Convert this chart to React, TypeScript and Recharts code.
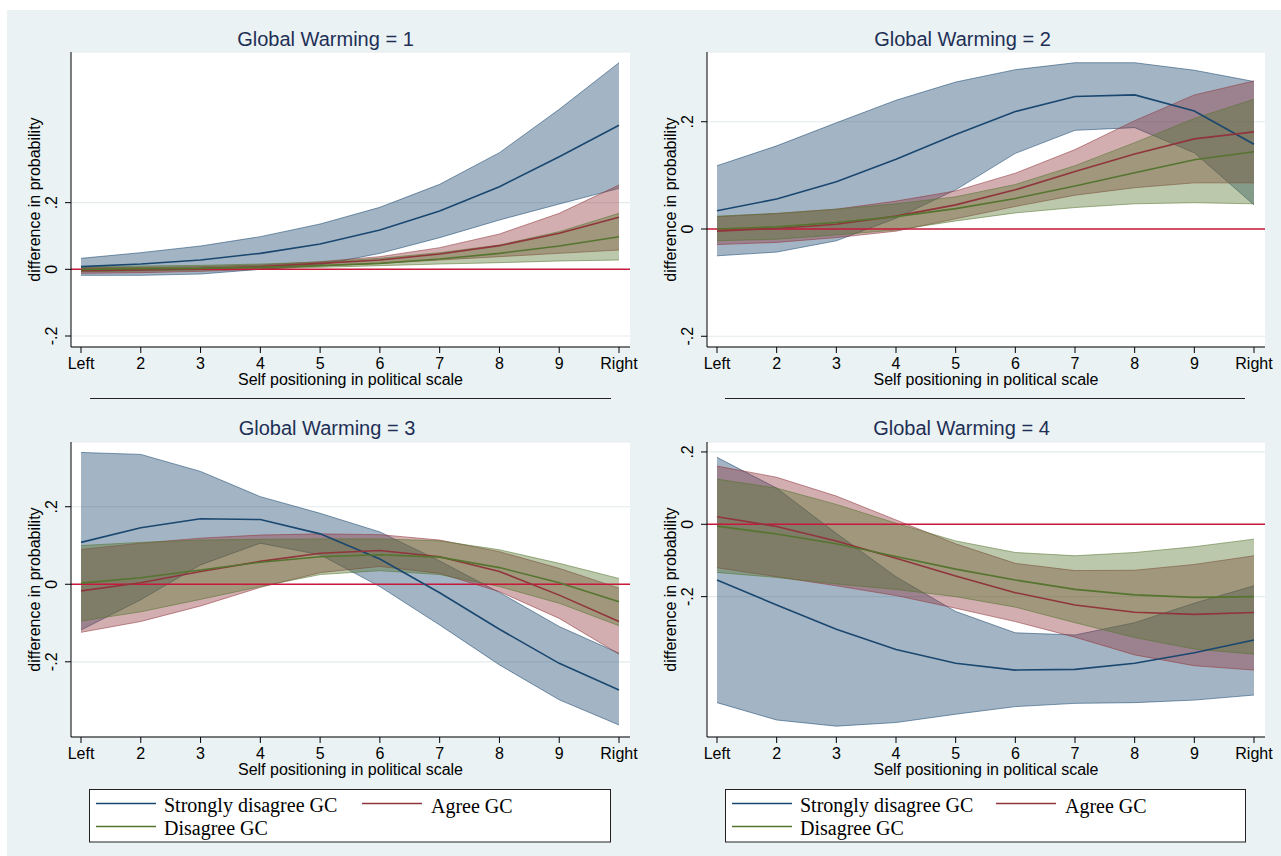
import React from "react";
import {
  ComposedChart,
  Area,
  Line,
  XAxis,
  YAxis,
  CartesianGrid,
  ReferenceLine,
} from "recharts";

// x positions on the left-right self placement scale
const positions = [1, 2, 3, 4, 5, 6, 7, 8, 9, 10];
const positionLabels = ["Left", "2", "3", "4", "5", "6", "7", "8", "9", "Right"];
const yTicks = [-0.2, 0, 0.2];
const seriesNames = ["Strongly disagree GC", "Agree GC", "Disagree GC"];
const panelTitles = [
  "Global Warming = 1",
  "Global Warming = 2",
  "Global Warming = 3",
  "Global Warming = 4",
];

// Global Warming = 1
const gw1Strong = [0.008, 0.016, 0.028, 0.048, 0.076, 0.118, 0.175, 0.248, 0.338, 0.432];
const gw1StrongLo = [-0.018, -0.018, -0.014, 0.0, 0.013, 0.048, 0.095, 0.148, 0.196, 0.243];
const gw1StrongHi = [0.033, 0.05, 0.07, 0.098, 0.136, 0.186, 0.255, 0.35, 0.48, 0.62];
const gw1Agree = [-0.004, -0.002, 0.002, 0.008, 0.018, 0.028, 0.046, 0.071, 0.108, 0.156];
const gw1AgreeLo = [-0.012, -0.01, -0.006, 0.0, 0.01, 0.018, 0.028, 0.038, 0.048, 0.058];
const gw1AgreeHi = [0.005, 0.006, 0.008, 0.013, 0.023, 0.038, 0.065, 0.106, 0.168, 0.253];
const gw1Dis = [0.0, 0.002, 0.003, 0.006, 0.011, 0.018, 0.031, 0.048, 0.07, 0.098];
const gw1DisLo = [-0.007, -0.005, -0.002, 0.002, 0.006, 0.011, 0.016, 0.02, 0.025, 0.028];
const gw1DisHi = [0.008, 0.01, 0.012, 0.016, 0.022, 0.033, 0.05, 0.073, 0.113, 0.168];

// Global Warming = 2
const gw2Strong = [0.034, 0.056, 0.088, 0.13, 0.176, 0.219, 0.247, 0.25, 0.22, 0.158];
const gw2StrongLo = [-0.05, -0.043, -0.022, 0.02, 0.073, 0.141, 0.184, 0.189, 0.142, 0.045];
const gw2StrongHi = [0.118, 0.155, 0.198, 0.24, 0.274, 0.297, 0.31, 0.31, 0.296, 0.275];
const gw2Agree = [-0.004, 0.001, 0.009, 0.024, 0.045, 0.073, 0.107, 0.14, 0.168, 0.181];
const gw2AgreeLo = [-0.029, -0.025, -0.016, -0.004, 0.019, 0.042, 0.063, 0.077, 0.086, 0.086];
const gw2AgreeHi = [0.023, 0.029, 0.037, 0.052, 0.071, 0.104, 0.148, 0.202, 0.25, 0.276];
const gw2Dis = [0.0, 0.004, 0.012, 0.023, 0.038, 0.057, 0.08, 0.105, 0.129, 0.144];
const gw2DisLo = [-0.022, -0.019, -0.011, -0.002, 0.015, 0.03, 0.04, 0.047, 0.049, 0.047];
const gw2DisHi = [0.024, 0.029, 0.037, 0.047, 0.06, 0.083, 0.118, 0.161, 0.206, 0.242];

// Global Warming = 3
const gw3Strong = [0.108, 0.146, 0.169, 0.167, 0.13, 0.065, -0.022, -0.116, -0.204, -0.273];
const gw3StrongLo = [-0.118, -0.04, 0.05, 0.106, 0.076, -0.006, -0.105, -0.208, -0.298, -0.363];
const gw3StrongHi = [0.34, 0.335, 0.291, 0.226, 0.183, 0.135, 0.06, -0.021, -0.109, -0.178];
const gw3Agree = [-0.017, 0.004, 0.033, 0.059, 0.08, 0.087, 0.071, 0.033, -0.028, -0.096];
const gw3AgreeLo = [-0.124, -0.096, -0.056, -0.008, 0.03, 0.046, 0.028, -0.019, -0.088, -0.18];
const gw3AgreeHi = [0.09, 0.106, 0.119, 0.127, 0.13, 0.128, 0.114, 0.084, 0.041, -0.01];
const gw3Dis = [0.003, 0.017, 0.037, 0.057, 0.071, 0.076, 0.07, 0.043, 0.004, -0.045];
const gw3DisLo = [-0.095, -0.071, -0.039, -0.006, 0.025, 0.035, 0.025, -0.006, -0.049, -0.107];
const gw3DisHi = [0.1, 0.108, 0.114, 0.116, 0.117, 0.117, 0.112, 0.089, 0.054, 0.015];

// Global Warming = 4
const gw4Strong = [-0.154, -0.223, -0.29, -0.346, -0.384, -0.403, -0.401, -0.384, -0.355, -0.32];
const gw4StrongLo = [-0.493, -0.541, -0.558, -0.548, -0.525, -0.504, -0.495, -0.493, -0.486, -0.472];
const gw4StrongHi = [0.185, 0.1, -0.025, -0.145, -0.241, -0.3, -0.306, -0.272, -0.218, -0.17];
const gw4Agree = [0.021, -0.006, -0.046, -0.094, -0.143, -0.189, -0.223, -0.243, -0.249, -0.244];
const gw4AgreeLo = [-0.12, -0.145, -0.17, -0.197, -0.232, -0.269, -0.312, -0.361, -0.391, -0.403];
const gw4AgreeHi = [0.161, 0.13, 0.078, 0.012, -0.054, -0.108, -0.128, -0.127, -0.111, -0.087];
const gw4Dis = [-0.005, -0.027, -0.054, -0.089, -0.124, -0.154, -0.18, -0.195, -0.202, -0.2];
const gw4DisLo = [-0.133, -0.147, -0.165, -0.18, -0.2, -0.229, -0.272, -0.313, -0.345, -0.359];
const gw4DisHi = [0.125, 0.1, 0.055, 0.003, -0.046, -0.078, -0.087, -0.078, -0.062, -0.041];

const NAVY = "#1a476f";
const MAROON = "#90353b";
const FOREST = "#55752f";
const ZERO = "#c8193c";
const BG = "#eaf2f3";
const GRID = "#e3ebed";
const TITLE = "#1e2f56";
const SANS = '"Liberation Sans", Arial, sans-serif';
const SERIF = '"Liberation Serif", "Times New Roman", serif';

function buildRows(
  sd: number[], sdLo: number[], sdHi: number[],
  ag: number[], agLo: number[], agHi: number[],
  di: number[], diLo: number[], diHi: number[]
) {
  return positions.map((x, i) => ({
    x,
    sd: sd[i],
    sdBand: [sdLo[i], sdHi[i]],
    ag: ag[i],
    agBand: [agLo[i], agHi[i]],
    di: di[i],
    diBand: [diLo[i], diHi[i]],
  }));
}

const rows1 = buildRows(gw1Strong, gw1StrongLo, gw1StrongHi, gw1Agree, gw1AgreeLo, gw1AgreeHi, gw1Dis, gw1DisLo, gw1DisHi);
const rows2 = buildRows(gw2Strong, gw2StrongLo, gw2StrongHi, gw2Agree, gw2AgreeLo, gw2AgreeHi, gw2Dis, gw2DisLo, gw2DisHi);
const rows3 = buildRows(gw3Strong, gw3StrongLo, gw3StrongHi, gw3Agree, gw3AgreeLo, gw3AgreeHi, gw3Dis, gw3DisLo, gw3DisHi);
const rows4 = buildRows(gw4Strong, gw4StrongLo, gw4StrongHi, gw4Agree, gw4AgreeLo, gw4AgreeHi, gw4Dis, gw4DisLo, gw4DisHi);

const fmtY = (v: number) => {
  if (Math.abs(v) < 1e-9) return "0";
  return (v < 0 ? "-" : "") + "." + Math.round(Math.abs(v) * 10);
};

function YTick(props: any) {
  const { x, y, payload } = props;
  return (
    <text
      x={x}
      y={y}
      transform={`rotate(-90 ${x} ${y})`}
      textAnchor="middle"
      fontSize={16}
      fontFamily={SANS}
      fill="#000"
    >
      {fmtY(payload.value)}
    </text>
  );
}

type PanelProps = {
  plotLeft: number;
  plotTop: number;
  plotWidth: number;
  plotHeight: number;
  domain: [number, number];
  rows: any[];
};

function Panel({ plotLeft, plotTop, plotWidth, plotHeight, domain, rows }: PanelProps) {
  const yw = 40;
  const mt = 4;
  const mr = 16;
  const xh = 30;
  return (
    <div style={{ position: "absolute", left: plotLeft - yw, top: plotTop - mt }}>
      <ComposedChart
        width={plotWidth + yw + mr}
        height={plotHeight + mt + xh}
        data={rows}
        margin={{ top: mt, right: mr, bottom: 0, left: 0 }}
      >
        <CartesianGrid vertical={false} fill="#ffffff" fillOpacity={1} stroke={GRID} strokeWidth={1.2} />
        <XAxis
          dataKey="x"
          type="number"
          domain={[1, 10]}
          ticks={positions}
          interval={0}
          tickFormatter={(v: number) => positionLabels[v - 1]}
          padding={{ left: 10, right: 11 }}
          height={xh}
          stroke="#000"
          tickSize={6}
          tickMargin={5}
          tick={{ fill: "#000", fontSize: 16, fontFamily: SANS }}
        />
        <YAxis
          type="number"
          domain={domain}
          ticks={yTicks}
          allowDataOverflow
          width={yw}
          stroke="#000"
          tickSize={6}
          tickMargin={8}
          tick={<YTick />}
        />
        <ReferenceLine y={0} stroke={ZERO} strokeWidth={1.5} />
        <Area type="linear" dataKey="sdBand" fill={NAVY} fillOpacity={0.4} stroke={NAVY} strokeOpacity={0.55} strokeWidth={1} dot={false} activeDot={false} isAnimationActive={false} />
        <Area type="linear" dataKey="agBand" fill={MAROON} fillOpacity={0.4} stroke={MAROON} strokeOpacity={0.55} strokeWidth={1} dot={false} activeDot={false} isAnimationActive={false} />
        <Area type="linear" dataKey="diBand" fill={FOREST} fillOpacity={0.4} stroke={FOREST} strokeOpacity={0.55} strokeWidth={1} dot={false} activeDot={false} isAnimationActive={false} />
        <Line type="linear" dataKey="sd" stroke={NAVY} strokeWidth={1.6} dot={false} activeDot={false} isAnimationActive={false} />
        <Line type="linear" dataKey="ag" stroke={MAROON} strokeWidth={1.6} dot={false} activeDot={false} isAnimationActive={false} />
        <Line type="linear" dataKey="di" stroke={FOREST} strokeWidth={1.6} dot={false} activeDot={false} isAnimationActive={false} />
      </ComposedChart>
    </div>
  );
}

function LegendBox({ x, y, w, h, col2 }: { x: number; y: number; w: number; h: number; col2: number }) {
  const row1 = y + 14.5;
  const row2 = y + 37.5;
  return (
    <g>
      <rect x={x + 0.5} y={y + 0.5} width={w} height={h} fill="#fff" stroke="#222" strokeWidth={1} />
      <line x1={x + 7} x2={x + 67} y1={row1} y2={row1} stroke={NAVY} strokeWidth={1.5} />
      <text x={x + 75} y={row1 + 8} fontSize={20} fontFamily={SERIF} fill="#000">{seriesNames[0]}</text>
      <line x1={x + col2} x2={x + col2 + 60} y1={row1} y2={row1} stroke={MAROON} strokeWidth={1.5} />
      <text x={x + col2 + 69} y={row1 + 9} fontSize={20} fontFamily={SERIF} fill="#000">{seriesNames[1]}</text>
      <line x1={x + 7} x2={x + 67} y1={row2} y2={row2} stroke={FOREST} strokeWidth={1.5} />
      <text x={x + 75} y={row2 + 8.5} fontSize={20} fontFamily={SERIF} fill="#000">{seriesNames[2]}</text>
    </g>
  );
}

export default function App() {
  return (
    <div style={{ position: "absolute", left: 0, top: 0, width: 1281, height: 856, overflow: "hidden", background: "#fff" }}>
      <div style={{ position: "absolute", left: 7, top: 10, width: 1274, height: 846, background: BG }} />

      <Panel plotLeft={71} plotTop={52} plotWidth={559} plotHeight={295} domain={[-0.233, 0.652]} rows={rows1} />
      <Panel plotLeft={707} plotTop={52} plotWidth={558} plotHeight={295} domain={[-0.22, 0.33]} rows={rows2} />
      <Panel plotLeft={71} plotTop={442} plotWidth={559} plotHeight={295} domain={[-0.394, 0.367]} rows={rows3} />
      <Panel plotLeft={707} plotTop={442} plotWidth={558} plotHeight={295} domain={[-0.588, 0.2275]} rows={rows4} />

      <svg width={1281} height={856} style={{ position: "absolute", left: 0, top: 0, pointerEvents: "none" }}>
        <g fontFamily={SANS} fontSize={20} fill={TITLE} textAnchor="middle">
          <text x={325.5} y={46}>{panelTitles[0]}</text>
          <text x={962.5} y={46}>{panelTitles[1]}</text>
          <text x={327} y={435}>{panelTitles[2]}</text>
          <text x={961.5} y={435}>{panelTitles[3]}</text>
        </g>
        <g fontFamily={SANS} fontSize={16} fill="#000" textAnchor="middle">
          <text x={350.5} y={385}>Self positioning in political scale</text>
          <text x={986} y={385}>Self positioning in political scale</text>
          <text x={350.5} y={775}>Self positioning in political scale</text>
          <text x={986} y={775}>Self positioning in political scale</text>
          <text x={40} y={199.5} transform="rotate(-90 40 199.5)">difference in probability</text>
          <text x={676} y={199.5} transform="rotate(-90 676 199.5)">difference in probability</text>
          <text x={40} y={589.5} transform="rotate(-90 40 589.5)">difference in probability</text>
          <text x={676} y={589.5} transform="rotate(-90 676 589.5)">difference in probability</text>
        </g>
        <line x1={90} x2={611} y1={398.5} y2={398.5} stroke="#222" strokeWidth={1} />
        <line x1={725} x2={1245} y1={398.5} y2={398.5} stroke="#222" strokeWidth={1} />
        <LegendBox x={89} y={789} w={521} h={52.5} col2={273} />
        <LegendBox x={725} y={789} w={520} h={52.5} col2={271} />
      </svg>
    </div>
  );
}
